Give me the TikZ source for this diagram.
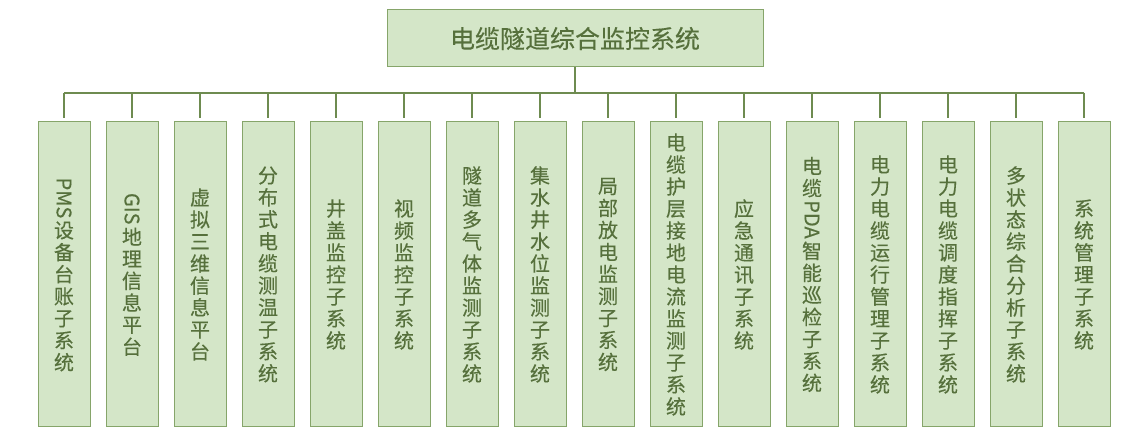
\documentclass[tikz,border=0pt]{standalone}
\usepackage{fontspec,graphicx}
\newfontfamily\cjk[FakeBold=0.3]{Noto Sans CJK SC}
\usetikzlibrary{calc}
\definecolor{boxfill}{HTML}{D4E6C8}
\definecolor{boxline}{HTML}{86A56A}
\definecolor{linkline}{HTML}{6E8B50}
\definecolor{txt}{HTML}{56703C}
\newcommand{\rot}[1]{\rotatebox[origin=c]{-90}{#1}}
\setlength{\lineskip}{3pt}
\begin{document}
\begin{tikzpicture}[x=1pt,y=1pt,
  topbox/.style={draw=boxline,line width=1pt,fill=boxfill,minimum width=376,minimum height=57,inner sep=0,text=txt,font=\cjk\fontsize{25}{28}\selectfont},
  subbox/.style={draw=boxline,line width=1pt,fill=boxfill,minimum width=52,minimum height=305,inner sep=0,align=center,text=txt,font=\cjk\fontsize{20}{22}\selectfont},
  link/.style={draw=linkline,line width=1.6pt}]
\useasboundingbox (0,0) rectangle (1132,443);
\node[topbox] (top) at (575,404.5) {电缆隧道综合监控系统};
\foreach \t [count=\i] in {{\rot{PMS}\\设\\备\\台\\账\\子\\系\\统},{\rot{GIS}\\地\\理\\信\\息\\平\\台},{虚\\拟\\三\\维\\信\\息\\平\\台},
  {分\\布\\式\\电\\缆\\测\\温\\子\\系\\统},{井\\盖\\监\\控\\子\\系\\统},{视\\频\\监\\控\\子\\系\\统},
  {隧\\道\\多\\气\\体\\监\\测\\子\\系\\统},{集\\水\\井\\水\\位\\监\\测\\子\\系\\统},{局\\部\\放\\电\\监\\测\\子\\系\\统},
  {电\\缆\\护\\层\\接\\地\\电\\流\\监\\测\\子\\系\\统},{应\\急\\通\\讯\\子\\系\\统},{电\\缆\\\rot{PDA}\\智\\能\\巡\\检\\子\\系\\统},
  {电\\力\\电\\缆\\运\\行\\管\\理\\子\\系\\统},{电\\力\\电\\缆\\调\\度\\指\\挥\\子\\系\\统},{多\\状\\态\\综\\合\\分\\析\\子\\系\\统},
  {系\\统\\管\\理\\子\\系\\统}}
  \node[subbox] (c\i) at ({64+68*(\i-1)},168.5) {\t};
% connectors
\coordinate (bus) at (575,350);
\draw[link] (top.south) -- (bus);
\draw[link] (c1.north |- bus) -- (c16.north |- bus);
\foreach \i in {1,...,16} \draw[link,shorten >=3pt] (c\i.north |- bus) -- (c\i.north);
\end{tikzpicture}
\end{document}
